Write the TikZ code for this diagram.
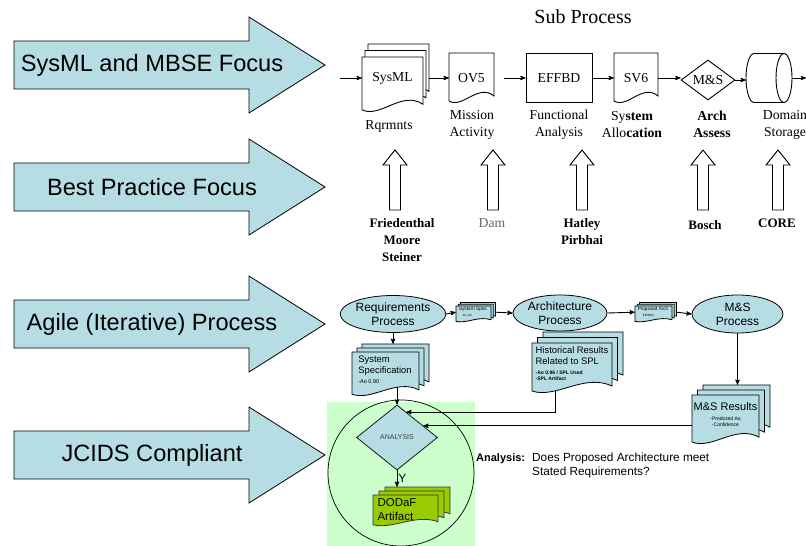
\documentclass[tikz,border=0pt]{standalone}
\usepackage{fontspec}
\setmainfont{Liberation Serif}
\setsansfont{Liberation Sans}
\usepackage{tikz}
\usetikzlibrary{arrows}
\usetikzlibrary{shapes.geometric}
\usetikzlibrary{calc,backgrounds}
\definecolor{paleblue}{RGB}{183,221,228}
\definecolor{palegreen}{RGB}{204,255,204}
\definecolor{olivegreen}{RGB}{153,204,0}
\tikzset{
  flow/.style={black, line width=0.9pt, ->, >=stealth'},
  sheet/.style={draw=black, line width=0.9pt, fill=white},
  bluesheet/.style={draw=black, line width=0.8pt, fill=paleblue},
  dodafsheet/.style={draw=black!80, line width=0.8pt, fill=olivegreen},
  process/.style={ellipse, draw, line width=0.8pt, fill=paleblue, inner sep=0pt, align=center, font=\sffamily\fontsize{12}{14}\selectfont},
  boxlbl/.style={inner sep=0pt, font=\fontsize{13.7}{17}\selectfont},
  toplbl/.style={align=center, inner sep=0pt, font=\fontsize{13.7}{17}\selectfont},
  srclbl/.style={align=center, inner sep=0pt, font=\bfseries\fontsize{13}{17}\selectfont},
  focus/.style={draw=black, line width=0.8pt, fill=paleblue},
  focuslbl/.style={font=\sffamily\fontsize{23.6}{28}\selectfont},
  doctxt/.style={align=left, inner sep=0pt, font=\sffamily\fontsize{9.4}{11}\selectfont},
}
\newcommand{\docsheet}[5][]{%
  \filldraw[#1] ({#2},{#3}) -- ({#4},{#3}) -- ({#4},{(#5)-0.14*((#5)-(#3))})
    .. controls ({(#2)+0.65*((#4)-(#2))},{(#5)-0.4*((#5)-(#3))}) and ({(#2)+0.3*((#4)-(#2))},{(#5)+0.12*((#5)-(#3))})
    .. ({#2},{(#5)-0.04*((#5)-(#3))}) -- cycle;}
\newcommand{\docnode}[6][]{%
  \docsheet[#1]{#3}{#4}{#5}{#6}
  \node[inner sep=0pt, minimum width={(#5)-(#3)}, minimum height={(#6)-(#4)}] (#2) at ({((#3)+(#5))/2},{((#4)+(#6))/2}) {};}
\newcommand{\docstack}[8][]{%
  \docsheet[#1]{(#5)+2*(#3)}{(#6)-2*(#4)}{(#7)+2*(#3)}{(#8)-2*(#4)}
  \docsheet[#1]{(#5)+(#3)}{(#6)-(#4)}{(#7)+(#3)}{(#8)-(#4)}
  \docsheet[#1]{#5}{#6}{#7}{#8}
  \node[inner sep=0pt, minimum width={(#7)-(#5)+2*(#3)}, minimum height={(#8)-(#6)+2*(#4)}] (#2) at ({((#5)+(#7))/2+(#3)},{((#6)+(#8))/2-(#4)}) {};}

\begin{document}
\begin{tikzpicture}[x=1pt,y=-1pt]
\useasboundingbox (0,0) rectangle (806,546);

\foreach \yc/\lbl/\nm in {65/SysML and MBSE Focus/sysmlfocus, 187/Best Practice Focus/bestfocus, 324/Agile (Iterative) Process/agilefocus, 455/JCIDS Compliant/jcidsfocus}{
  \filldraw[focus] (14,\yc-24) -- (249,\yc-24) -- (249,\yc-48) -- (325,\yc) -- (249,\yc+48) -- (249,\yc+24) -- (14,\yc+24) -- cycle;
  \node[focuslbl] (\nm) at (152,\yc) {\lbl};
}

\node[font=\fontsize{20}{22}\selectfont] (subproc) at (583,17) {Sub Process};
\docstack[sheet]{sysml}{3}{6.5}{362}{57}{423}{112}
\node[boxlbl] (sysml-txt) at (392.5,78) {SysML};
\docnode[sheet]{ov5}{449}{53}{494}{103}
\node[boxlbl] (ov5-txt) at (471.5,78) {OV5};
\node[draw, line width=0.9pt, minimum width=66, minimum height=49, inner sep=0pt, font=\fontsize{13.7}{17}\selectfont] (effbd) at (559,78) {EFFBD};
\docnode[sheet]{sv6}{614}{53}{658}{103}
\node[boxlbl] (sv6-txt) at (636,78) {SV6};
\node[diamond, draw, line width=0.9pt, aspect=1.35, minimum width=54, minimum height=40, inner sep=0pt, font=\fontsize{13.7}{17}\selectfont] (msa) at (708,80) {M\&S};
\node[inner sep=0pt, minimum width=46, minimum height=49] (dstore) at (769,78) {};
\draw[line width=0.9pt] (754,53.5) -- (784,53.5) (754,102.5) -- (784,102.5)
  (754,53.5) arc[start angle=270, end angle=90, x radius=8, y radius=24.5];
\draw[line width=0.9pt] (784,78) ellipse [x radius=8, y radius=24.5];
\coordinate (sysin) at (340,78);
\coordinate (sysout) at (806,78);
\draw[flow] (sysin) -- (sysml.west);
\draw[flow] (sysml.east) -- (ov5.west);
\draw[flow] ([xshift=10pt]ov5.east) -- (effbd.west);
\draw[flow] (effbd.east) -- (sv6.west);
\draw[flow] (sv6.east) -- (sv6.east -| msa.west);
\draw[flow] (msa.east) -- (msa.east -| dstore.west);
\draw[flow] (dstore.east) -- (sysout);

\node[toplbl] (rqrmnts) at (389,126) {Rqrmnts};
\node[toplbl] (mission) at (472,124.5) {Mission\\Activity};
\node[toplbl] (funcan) at (559,124.5) {Functional\\Analysis};
\node[toplbl] (sysalloc) at (632,124.5) {Sy\textbf{stem}\\Allo\textbf{cation}};
\node[toplbl, font=\bfseries\fontsize{13.7}{17}\selectfont] (archassess) at (712,124.5) {Arch\\Assess};
\node[toplbl] (domstore) at (785,124.5) {Domain\\Storage};

\foreach \ax in {395,493,582,703,778}
  \filldraw[sheet] (\ax-5.5,210) -- (\ax-5.5,165) -- (\ax-12,165) -- (\ax,150) -- (\ax+12,165) -- (\ax+5.5,165) -- (\ax+5.5,210) -- cycle;
\node[srclbl] (friedenthal) at (402,240) {Friedenthal\\Moore\\Steiner};
\node[toplbl, text=black!60] (dam) at (492,223) {Dam};
\node[srclbl] (hatley) at (582,231.5) {Hatley\\Pirbhai};
\node[srclbl] (bosch) at (705,225) {Bosch};
\node[srclbl] (core) at (777,223) {CORE};

\node[process, minimum width=97, minimum height=37] (reqproc) at (393,314) {Requirements\\Process};
\docstack[bluesheet]{specsmall}{2.2}{1.8}{456}{306}{491}{322}
\node[doctxt, font=\sffamily\fontsize{4.8}{5.5}\selectfont] (specsmall-txt) at (473,312) {System Spec\\\hspace*{3pt}{\fontsize{3}{3}\selectfont -Ao .90}};
\node[process, minimum width=94, minimum height=36] (archproc) at (560,313) {Architecture\\Process};
\docstack[bluesheet]{propsmall}{2.2}{1.8}{635}{306}{672}{322}
\node[doctxt, font=\sffamily\fontsize{4.6}{5.5}\selectfont] (propsmall-txt) at (653,312) {Proposed Arch\\\hspace*{5pt}{\fontsize{3}{3}\selectfont EFFBDs}};
\node[process, minimum width=91, minimum height=38] (msproc) at (737.5,314) {M\&S\\Process};
\draw[flow] (reqproc.east) -- (specsmall.west);
\draw[flow] (specsmall.east) -- (archproc.west);
\draw[flow] (archproc.east) -- (propsmall.west);
\draw[flow] (propsmall.east) -- (msproc.west);

\docstack[bluesheet]{sysspec}{5}{4}{352}{352}{419}{396}
\node[doctxt] (sysspec-txt) at (385,370) {System\\Specification\\[-1pt]{\fontsize{5.5}{6}\selectfont -Ao 0.90}};
\docstack[bluesheet]{hist}{5.5}{5.5}{532}{343}{612}{393}
\node[doctxt] (hist-txt) at (572,364) {Historical Results\\Related to SPL\\[-1pt]{\fontsize{5}{6}\selectfont\bfseries -Ao 0.96 / SPL Used}\\[-5pt]{\fontsize{5}{6}\selectfont\bfseries -SPL Artifact}};
\docstack[bluesheet]{msres}{5.5}{5}{692}{395}{759}{444}
\node[doctxt, align=center, font=\sffamily\fontsize{11}{13}\selectfont] (msres-txt) at (725.5,415) {M\&S Results\\[-3pt]{\fontsize{5}{6}\selectfont -Predicted Ao}\\[-7pt]{\fontsize{5}{6}\selectfont -Confidence}};
\draw[flow] (reqproc.south) -- (reqproc.south |- sysspec.north);
\draw[flow] (msproc.south) -- (msproc.south |- msres.north);

\node[circle, draw, line width=0.7pt, minimum size=146, inner sep=0pt] (jcidsring) at (401,473) {};
\node[diamond, draw, line width=0.7pt, fill=paleblue, aspect=1.25, minimum width=81, minimum height=65, inner sep=0pt, font=\sffamily\fontsize{7}{8}\selectfont, text=black!75] (analysis) at (397,437.5) {ANALYSIS};
\docstack[dodafsheet]{dodaf}{6}{4}{373}{495}{438}{526}
\node[doctxt, font=\sffamily\fontsize{11.5}{14}\selectfont] (dodaf-txt) at (397,510) {DODaF\\Artifact};
\draw[flow] (analysis.south) -- node[right, inner sep=1pt, font=\sffamily\fontsize{12}{14}\selectfont] {Y} (analysis.south |- dodaf.north);

\begin{scope}[on background layer]
\fill[palegreen] (327,402) rectangle (475,546);
\draw[flow] (analysis.north |- sysspec.center) -- (analysis.north);
\draw[flow] ([xshift=-22pt]hist.center) |- (analysis.70);
\draw[flow] (msres.center |- analysis.24) -- (analysis.24);
\end{scope}

\node[anchor=north west, inner sep=0pt, font=\sffamily\bfseries\fontsize{11}{14}\selectfont] (anlabel) at (476,453) {Analysis:};
\node[anchor=north west, inner sep=0pt, align=left, font=\sffamily\fontsize{11.8}{14}\selectfont] (anquestion) at (532,453) {Does Proposed Architecture meet\\Stated Requirements?};
\end{tikzpicture}
\end{document}
